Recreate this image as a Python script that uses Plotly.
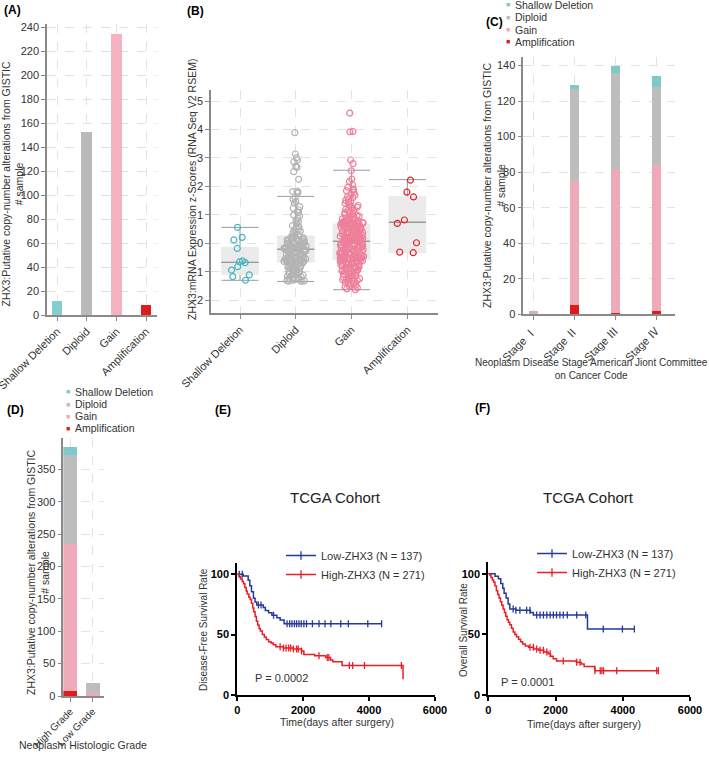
import numpy as np
import plotly.graph_objects as go

W, H = 709, 762
FONT = "Liberation Sans, Arial, Noto Sans CJK SC, sans-serif"


def px(x):
    return x / W


def py(y):
    return 1 - y / H


# ---------------- Panel A: copy-number categories ----------------
cna_categories = ["Shallow Deletion", "Diploid", "Gain", "Amplification"]
cna_counts = [12, 153, 235, 8]
a_colors = ["#86cdcd", "#bababa", "#f5b2c0", "#e31a1c"]

# ---------------- Panel B: expression z-scores ----------------
expr_shallow = [0.56, 0.21, 0.12, -0.18, -0.62, -0.65, -0.68, -0.82, -0.94, -1.11, -1.17, -1.30]
expr_diploid = [
    3.89, 3.14, 3.01, 2.93, 2.87, 2.71, 2.67, 2.52, 2.25, 1.84, 1.82, 1.80, 1.76,
    1.62, 1.55, 1.47, 1.42, 1.29, 1.23, 1.18, 1.11, 1.08, 1.00, 0.96, 0.88, 0.81,
    0.77, 0.70, 0.62, 0.58, 0.55, 0.51, 0.47, 0.43, 0.39, 0.35, 0.31, 0.28,
    0.25, 0.23, 0.21, 0.19, 0.18, 0.16, 0.14, 0.12, 0.11, 0.09, 0.07, 0.06, 0.04,
    0.03, 0.01, -0.01, -0.02, -0.04, -0.05, -0.06, -0.08, -0.09, -0.10, -0.11,
    -0.12, -0.13, -0.14, -0.15, -0.16, -0.16, -0.17, -0.18, -0.18, -0.19, -0.19,
    -0.20, -0.20, -0.21,
    -0.22, -0.24, -0.25, -0.27, -0.28, -0.30, -0.31, -0.33, -0.34, -0.36, -0.37,
    -0.38, -0.40, -0.41, -0.43, -0.44, -0.45, -0.47, -0.48, -0.50, -0.51, -0.52,
    -0.54, -0.55, -0.56, -0.57, -0.58, -0.59, -0.60, -0.61, -0.62, -0.63, -0.63,
    -0.64, -0.64, -0.65, -0.65, -0.66,
    -0.68, -0.70, -0.71, -0.73, -0.75, -0.77, -0.78, -0.80, -0.82, -0.84, -0.86,
    -0.88, -0.90, -0.92, -0.94, -0.96, -0.98, -1.00, -1.02, -1.04, -1.06, -1.08,
    -1.10, -1.12, -1.14, -1.16, -1.18, -1.20, -1.21, -1.23, -1.24, -1.26, -1.27,
    -1.28, -1.30, -1.31, -1.32, -1.33, -1.34,
]
expr_gain = [
    4.58, 3.93, 3.92, 2.93, 2.80, 2.55, 2.26, 2.17, 2.06, 1.97,
    1.91, 1.88, 1.85, 1.79, 1.72, 1.69, 1.64, 1.61, 1.56, 1.51,
    1.48, 1.44, 1.41, 1.36, 1.33, 1.29, 1.27, 1.22, 1.19, 1.16,
    1.15, 1.11, 1.08, 1.06, 1.02, 0.99, 0.97, 0.95, 0.92, 0.90,
    0.89, 0.86, 0.84, 0.83, 0.81, 0.79, 0.78, 0.77, 0.75, 0.74,
    0.73, 0.72, 0.72, 0.71, 0.70, 0.70, 0.69, 0.69, 0.68,
    0.67, 0.66, 0.65, 0.63, 0.62, 0.61, 0.60, 0.58, 0.57, 0.56,
    0.55, 0.53, 0.52, 0.51, 0.49, 0.48, 0.47, 0.46, 0.44, 0.43,
    0.42, 0.41, 0.39, 0.38, 0.37, 0.35, 0.34, 0.33, 0.32, 0.30,
    0.29, 0.28, 0.27, 0.25, 0.24, 0.23, 0.22, 0.21, 0.20, 0.19,
    0.18, 0.17, 0.17, 0.16, 0.15, 0.14, 0.14, 0.13, 0.12, 0.12,
    0.11, 0.11, 0.10, 0.10, 0.09, 0.09, 0.08, 0.08, 0.07,
    0.06, 0.05, 0.04, 0.03, 0.02, 0.01, -0.01, -0.02, -0.03, -0.05,
    -0.06, -0.07, -0.08, -0.10, -0.11, -0.12, -0.13, -0.15, -0.16, -0.17,
    -0.18, -0.20, -0.21, -0.22, -0.23, -0.25, -0.26, -0.27, -0.28, -0.30,
    -0.31, -0.32, -0.33, -0.34, -0.36, -0.37, -0.38, -0.39, -0.40, -0.41,
    -0.42, -0.43, -0.44, -0.45, -0.46, -0.47, -0.48, -0.49, -0.50, -0.50,
    -0.51, -0.52, -0.52, -0.53, -0.53, -0.54, -0.54, -0.55, -0.55,
    -0.57, -0.58, -0.59, -0.60, -0.62, -0.63, -0.64, -0.66, -0.67, -0.68,
    -0.70, -0.71, -0.72, -0.74, -0.75, -0.77, -0.78, -0.80, -0.81, -0.83,
    -0.84, -0.86, -0.87, -0.89, -0.90, -0.92, -0.94, -0.95, -0.97, -0.99,
    -1.00, -1.02, -1.04, -1.06, -1.08, -1.10, -1.12, -1.14, -1.16, -1.18,
    -1.20, -1.22, -1.24, -1.26, -1.28, -1.30, -1.32, -1.35, -1.37, -1.39,
    -1.41, -1.44, -1.47, -1.50, -1.53, -1.56, -1.60, -1.63,
]
expr_amp = [2.22, 1.80, 1.63, 0.82, 0.70, 0.02, -0.31, -0.33]
box_q1 = [-1.09, -0.66, -0.56, -0.32]
box_median = [-0.67, -0.21, 0.07, 0.74]
box_q3 = [-0.14, 0.26, 0.68, 1.64]
box_lower = [-1.30, -1.34, -1.63, -0.32]
box_upper = [0.56, 1.65, 2.57, 2.24]
point_colors = ["#45b9be", "#b3b3b3", "#ee7f9a", "#e3262b"]

# ---------------- Panel C: stage ----------------
stages = ["Stage Ⅰ", "Stage Ⅱ", "Stage Ⅲ", "Stage Ⅳ"]
stage_amp = [0, 5, 1, 2]
stage_gain = [1, 70, 80, 82]
stage_diploid = [1, 52, 55, 44]
stage_shallow = [0, 2, 4, 6]

# ---------------- Panel D: grade ----------------
grades = ["High Grade", "Low Grade"]
grade_amp = [8, 0]
grade_gain = [226, 5]
grade_diploid = [138, 15]
grade_shallow = [12, 0]

stack_colors = {"Shallow Deletion": "#7ec9c9", "Diploid": "#bdbdbd",
                "Gain": "#eeaab8", "Amplification": "#dd1c1c"}

# ---------------- Panel E: disease-free survival ----------------
dfs_low_t = [0, 180, 330, 380, 430, 490, 540, 590, 790, 850, 950, 1050, 1200, 1300, 1420]
dfs_low_s = [100, 98.5, 95, 90.5, 85.5, 80, 77, 74.5, 72.5, 70, 68, 66, 64, 62, 59]
dfs_low_end = 4380
dfs_low_censor = [60, 150, 640, 720, 1100, 1510, 1590, 1660, 1735, 1800, 1870, 1940,
                  2020, 2100, 2280, 2480, 2660, 2840, 3140, 3370, 3960, 4380]
dfs_high_t = [0, 50, 100, 150, 190, 230, 270, 300, 350, 390, 430, 470, 500, 540, 580,
              620, 660, 700, 760, 820, 880, 950, 1020, 1090, 1170, 1400, 1700, 1950,
              2020, 2350, 2680, 2830, 2900, 3180, 5030]
dfs_high_s = [100, 98, 96, 94, 92, 89, 86, 83.5, 81, 79, 76, 72, 69, 65, 61,
              58, 55, 53, 50, 48, 46, 44, 43, 41.5, 40, 39, 38, 36.5,
              33.5, 32.5, 31, 29, 27.5, 24.5, 13]
dfs_high_end = 5030
dfs_high_censor = [1300, 1400, 1480, 1560, 1620, 1700, 1800, 1850, 1950, 2480, 2730,
                   2780, 3400, 3500, 3860, 4980]

# ---------------- Panel F: overall survival ----------------
os_low_t = [0, 200, 300, 370, 430, 470, 530, 590, 640, 820, 1250, 1340, 2950]
os_low_s = [100, 98, 96, 92, 88, 84, 80, 75, 71, 70, 68, 66, 54.5]
os_low_end = 4345
os_low_censor = [740, 820, 940, 1140, 1240, 1440, 1540, 1640, 1740, 1840, 1935, 2030,
                 2130, 2230, 2350, 2630, 2900, 3420, 3990, 4345]
os_high_t = [0, 40, 80, 120, 160, 200, 240, 280, 320, 360, 400, 440, 480, 520, 560,
             600, 640, 690, 740, 790, 840, 900, 960, 1020, 1100, 1200, 1350, 1500,
             1650, 1780, 1850, 1930, 2030, 2620, 2760, 2850, 3170]
os_high_s = [100, 99, 97, 95, 93, 90, 86, 83, 80, 77, 74, 71, 68, 65, 62,
             60, 58, 55, 52, 50, 48, 46, 44, 42, 40.5, 39.5, 38, 37,
             35.5, 34, 32, 30, 28, 27, 25.5, 23.5, 20]
os_high_end = 5060
os_high_censor = [1240, 1340, 1440, 1540, 1640, 1740, 1840, 2230, 2630, 2730, 3175,
                  3330, 3380, 3430, 3820, 5010, 5060]

low_name = "Low-ZHX3 (N = 137)"
high_name = "High-ZHX3 (N = 271)"
BLUE = "#25399a"
RED = "#ec1c24"

fig = go.Figure()

# Panel A
fig.add_trace(go.Bar(x=cna_categories, y=cna_counts, marker=dict(color=a_colors, line=dict(width=0)),
                     width=0.36, xaxis="x", yaxis="y", showlegend=False))

# Panel B boxes: whiskers, fill, median, points
gray_line = "#9a9a9a"
fill_col = "#ebebeb"
fig.add_trace(go.Box(x=cna_categories, q1=box_median, median=box_median, q3=box_median,
                     lowerfence=box_lower, upperfence=box_upper, width=0.66, whiskerwidth=1,
                     line=dict(color=gray_line, width=1), fillcolor="rgba(0,0,0,0)",
                     boxpoints=False, xaxis="x2", yaxis="y2", showlegend=False))
fig.add_trace(go.Box(x=cna_categories, q1=box_q1, median=box_median, q3=box_q3,
                     lowerfence=box_q1, upperfence=box_q3, width=0.66, whiskerwidth=0,
                     line=dict(color=fill_col, width=1), fillcolor=fill_col,
                     boxpoints=False, xaxis="x2", yaxis="y2", showlegend=False))
fig.add_trace(go.Box(x=cna_categories, q1=box_median, median=box_median, q3=box_median,
                     lowerfence=box_median, upperfence=box_median, width=0.66, whiskerwidth=0,
                     line=dict(color=gray_line, width=1), fillcolor="rgba(0,0,0,0)",
                     boxpoints=False, xaxis="x2", yaxis="y2", showlegend=False))
for cat, vals, col in zip(cna_categories, [expr_shallow, expr_diploid, expr_gain, expr_amp], point_colors):
    fig.add_trace(go.Box(x=[cat] * len(vals), y=vals, width=0.66, boxpoints="all", jitter=0.65,
                         pointpos=0, whiskerwidth=0, fillcolor="rgba(0,0,0,0)",
                         line=dict(color="rgba(0,0,0,0)", width=0),
                         marker=dict(symbol="circle-open", size=6, color=col,
                                     line=dict(width=1.2, color=col)),
                         xaxis="x2", yaxis="y2", showlegend=False))

# Panel C stacked
for name, vals in [("Amplification", stage_amp), ("Gain", stage_gain),
                   ("Diploid", stage_diploid), ("Shallow Deletion", stage_shallow)]:
    fig.add_trace(go.Bar(x=stages, y=vals, name=name, width=0.22,
                         marker=dict(color=stack_colors[name], line=dict(width=0)),
                         xaxis="x3", yaxis="y3", showlegend=False))
# Panel D stacked
for name, vals in [("Amplification", grade_amp), ("Gain", grade_gain),
                   ("Diploid", grade_diploid), ("Shallow Deletion", grade_shallow)]:
    fig.add_trace(go.Bar(x=grades, y=vals, name=name, width=0.63,
                         marker=dict(color=stack_colors[name], line=dict(width=0)),
                         xaxis="x4", yaxis="y4", showlegend=False))


def km(t, s, end, censor, color, xa, ya):
    t = list(t)
    s = list(s)
    if end > t[-1]:
        xl, yl = t + [end], s + [s[-1]]
    else:
        xl, yl = t, s
    fig.add_trace(go.Scatter(x=xl, y=yl, mode="lines", line=dict(color=color, width=1.5, shape="hv"),
                             xaxis=xa, yaxis=ya, showlegend=False))
    idx = np.searchsorted(np.array(t), np.array(censor), side="right") - 1
    cy = np.array(s)[idx]
    fig.add_trace(go.Scatter(x=censor, y=cy, mode="markers",
                             marker=dict(symbol="line-ns-open", size=5, color=color,
                                         line=dict(width=1.3, color=color)),
                             xaxis=xa, yaxis=ya, showlegend=False))


km(dfs_low_t, dfs_low_s, dfs_low_end, dfs_low_censor, BLUE, "x5", "y5")
km(dfs_high_t, dfs_high_s, dfs_high_end, dfs_high_censor, RED, "x5", "y5")
km(os_low_t, os_low_s, os_low_end, os_low_censor, BLUE, "x6", "y6")
km(os_high_t, os_high_s, os_high_end, os_high_censor, RED, "x6", "y6")

for lg, xa, ya in [("legend", "x5", "y5"), ("legend2", "x6", "y6")]:
    for nm, col in [(low_name, BLUE), (high_name, RED)]:
        fig.add_trace(go.Scatter(x=[None], y=[None], mode="lines+markers", name=nm,
                                 line=dict(color=col, width=1.5),
                                 marker=dict(symbol="line-ns-open", size=6, color=col,
                                             line=dict(width=1.3, color=col)),
                                 xaxis=xa, yaxis=ya, legend=lg, showlegend=True))

# ---------------- axes ----------------
tickfont = dict(family=FONT, size=11, color="#333")
soft = dict(showline=True, linecolor="#8a8a8a", linewidth=1.5, ticks="outside", ticklen=4,
            tickcolor="#8a8a8a", tickwidth=1, showgrid=True, gridcolor="#e3e3e3",
            griddash="dash", gridwidth=1, zeroline=False, tickfont=tickfont, automargin=False)
km_ax = dict(showline=True, linecolor="black", linewidth=2, ticks="outside", ticklen=4,
             tickcolor="black", tickwidth=2, showgrid=False, zeroline=False, automargin=False,
             tickfont=dict(family=FONT, size=11, color="black", weight="bold"))


def dom_x(a, b):
    return [px(a), px(b)]


def dom_y(top, bottom):
    return [py(bottom), py(top)]


fig.update_layout(
    xaxis=dict(soft, domain=dom_x(47, 157), anchor="y", type="category",
               categoryarray=cna_categories, range=[-0.34, 3.37], tickangle=-45),
    yaxis=dict(soft, domain=dom_y(24, 315), anchor="x", range=[0, 243],
               tickvals=list(range(0, 241, 20))),
    xaxis2=dict(soft, domain=dom_x(211, 438), anchor="y2", type="category",
                categoryarray=cna_categories, range=[-0.52, 3.55], tickangle=-45),
    yaxis2=dict(soft, domain=dom_y(90, 313.3), anchor="x2", range=[-2.46, 5.39],
                tickvals=list(range(-2, 6))),
    xaxis3=dict(soft, domain=dom_x(523.3, 675), anchor="y3", type="category",
                categoryarray=stages, range=[-0.245, 3.46], tickangle=-45),
    yaxis3=dict(soft, domain=dom_y(56.7, 314.3), anchor="x3", range=[0, 145],
                tickvals=list(range(0, 141, 20))),
    xaxis4=dict(soft, domain=dom_x(63.3, 104), anchor="y4", type="category",
                categoryarray=grades, range=[-0.31, 1.51], tickangle=-45,
                tickfont=dict(family=FONT, size=10, color="#333")),
    yaxis4=dict(soft, domain=dom_y(438.3, 696), anchor="x4", range=[0, 398],
                tickvals=list(range(0, 351, 50))),
    xaxis5=dict(km_ax, domain=dom_x(237.3, 435), anchor="y5", range=[0, 6000],
                tickvals=[0, 2000, 4000, 6000]),
    yaxis5=dict(km_ax, domain=dom_y(563.3, 695), anchor="x5", range=[0, 109],
                tickvals=[0, 50, 100]),
    xaxis6=dict(km_ax, domain=dom_x(488.3, 690), anchor="y6", range=[0, 6000],
                tickvals=[0, 2000, 4000, 6000]),
    yaxis6=dict(km_ax, domain=dom_y(561.7, 695), anchor="x6", range=[0, 110],
                tickvals=[0, 50, 100]),
)

leg_common = dict(bgcolor="rgba(0,0,0,0)", borderwidth=0, xanchor="left", yanchor="top",
                  traceorder="normal", tracegroupgap=0,
                  font=dict(family=FONT, size=11, color="#333"), itemclick=False)
fig.update_layout(
    legend=dict(leg_common, x=px(281), y=py(541)),
    legend2=dict(leg_common, x=px(532), y=py(539)),
)

# ---------------- annotations ----------------
anns = []


def ann(text, x, y, size=10.5, xanchor="center", yanchor="middle", angle=0,
        color="#333", bold=False):
    anns.append(dict(text=text, x=px(x), y=py(y), xref="paper", yref="paper",
                     showarrow=False, xanchor=xanchor, yanchor=yanchor, textangle=angle,
                     font=dict(family=FONT, size=size, color=color,
                               weight="bold" if bold else "normal")))


# panel labels
ann("(A)", 2, 10, size=12, xanchor="left", color="black", bold=True)
ann("(B)", 185, 11, size=12, xanchor="left", color="black", bold=True)
ann("(C)", 484, 22, size=12, xanchor="left", color="black", bold=True)
ann("(D)", 5, 410, size=12, xanchor="left", color="black", bold=True)
ann("(E)", 213, 410, size=12, xanchor="left", color="black", bold=True)
ann("(F)", 473, 408, size=12, xanchor="left", color="black", bold=True)

ytitle_cna = "ZHX3:Putative copy-number alterations from GISTIC<br># sample"
ann(ytitle_cna, 12.5, 184, size=10.5, angle=-90)
ann("ZHX3:mRNA Expression z-Scores (RNA Seq V2 RSEM)", 192, 190, size=10.5, angle=-90)
ann(ytitle_cna, 494, 185, size=10.5, angle=-90)
ann(ytitle_cna, 38, 572, size=10.5, angle=-90)
ann("Neoplasm Disease Stage American Jiont Committee<br>on Cancer Code", 591, 369, size=10)
ann("Neoplasm Histologic Grade", 83, 745, size=10.5)

# C / D legends
for x0, ys in [(508, [5, 17.3, 29.6, 41.9]), (67.7, [391.7, 404.3, 416.2, 428.3])]:
    for lab, yy in zip(cna_categories, ys):
        ann("■", x0, yy, size=7, color=stack_colors[lab])
        ann(lab, x0 + 5, yy, size=10.5, xanchor="left")

# KM text
ann("TCGA Cohort", 335, 498, size=15, color="#222")
ann("TCGA Cohort", 588, 497, size=15, color="#222")
ann("Disease-Free Survival Rate", 203, 630, size=10, angle=-90)
ann("Overall Survival Rate", 463, 630, size=10, angle=-90)
ann("Time(days after surgery)", 337, 722, size=10.5)
ann("Time(days after surgery)", 584, 724, size=10.5)
ann("P = 0.0002", 253, 678, size=11, xanchor="left")
ann("P = 0.0001", 499, 682, size=11, xanchor="left")

fig.update_layout(
    width=W, height=H, margin=dict(l=0, r=0, t=0, b=0, autoexpand=False),
    paper_bgcolor="white", plot_bgcolor="white",
    barmode="stack", boxmode="overlay",
    font=dict(family=FONT, size=11, color="#333"),
    annotations=anns,
)

fig.write_html("out.html", config={"displayModeBar": False},
               post_script="document.body.style.margin='0';document.body.style.overflow='hidden';")
